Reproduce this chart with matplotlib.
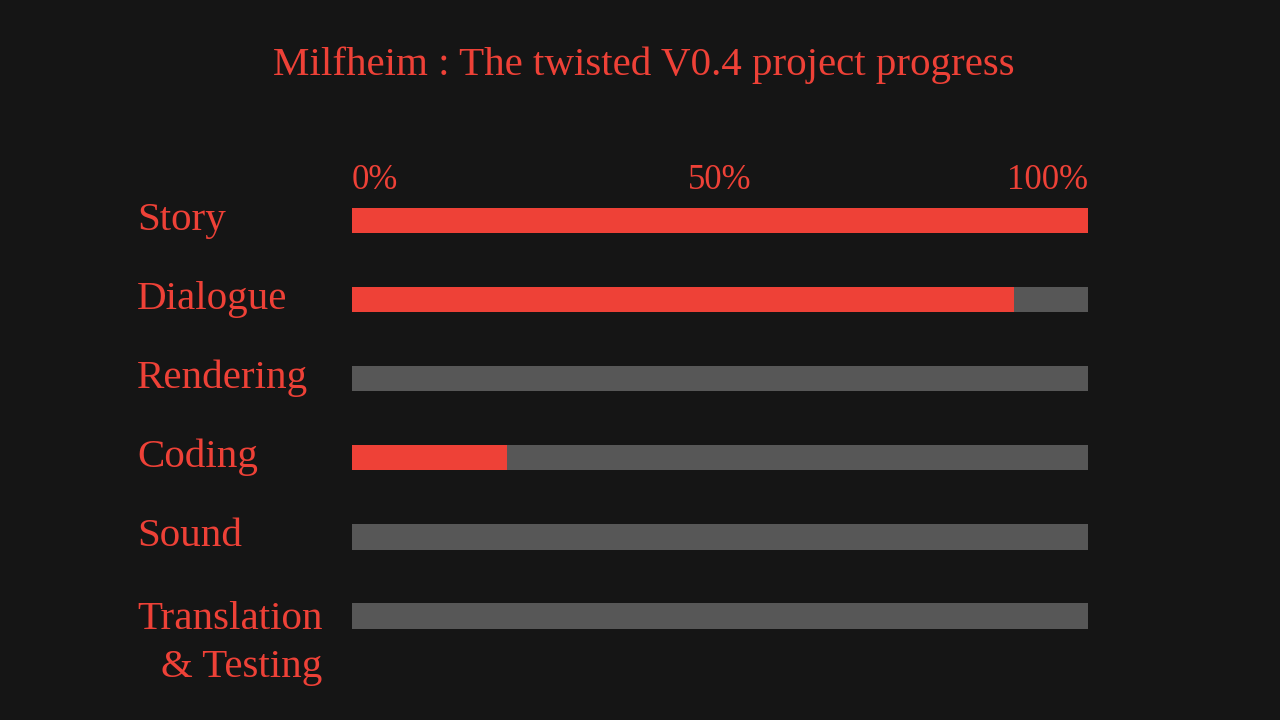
import matplotlib
matplotlib.use("Agg")
import matplotlib.pyplot as plt

title = "Milfheim : The twisted V0.4 project progress"
categories = ["Story", "Dialogue", "Rendering", "Coding", "Sound", "Translation\n& Testing"]
progress = [100, 90, 0, 21, 0, 0]
tick_values = [0, 50, 100]
tick_labels = ["0%", "50%", "100%"]

BG = "#151515"
RED = "#EE4137"
GRAY = "#575757"
FONT = "Liberation Serif"

fig = plt.figure(figsize=(12.8, 7.2), dpi=100, facecolor=BG)
ax = fig.add_axes([352 / 1280, 0.0896, 736 / 1280, 0.659])
ax.set_facecolor(BG)

ys = list(range(len(categories)))
ax.barh(ys, [100] * len(categories), height=0.32, color=GRAY, zorder=1)
ax.barh(ys, progress, height=0.32, color=RED, zorder=2)
ax.set_xlim(0, 100)
ax.set_ylim(len(categories) - 0.5, -0.5)
ax.axis("off")

# category labels
label_x = -215 / 736 * 100
for y, cat in zip(ys, categories):
    if "\n" in cat:
        ax.text(label_x, y - 0.19, cat, ha="left", va="top",
                multialignment="right", fontsize=29.5, family=FONT, color=RED,
                linespacing=1.38)
    else:
        ax.text(label_x, y + 0.12, cat, ha="left", va="baseline",
                fontsize=29.5, family=FONT, color=RED)

# percent ticks above the bars
has = ["left", "center", "right"]
for v, lab, ha in zip(tick_values, tick_labels, has):
    ax.text(v, -0.40, lab, ha=ha, va="baseline", fontsize=25,
            family=FONT, color=RED)

fig.text(644 / 1280, 1 - 75 / 720, title, ha="center", va="baseline", fontsize=29.5,
         family=FONT, color=RED)

fig.savefig("out.png", dpi=100, facecolor=BG)
